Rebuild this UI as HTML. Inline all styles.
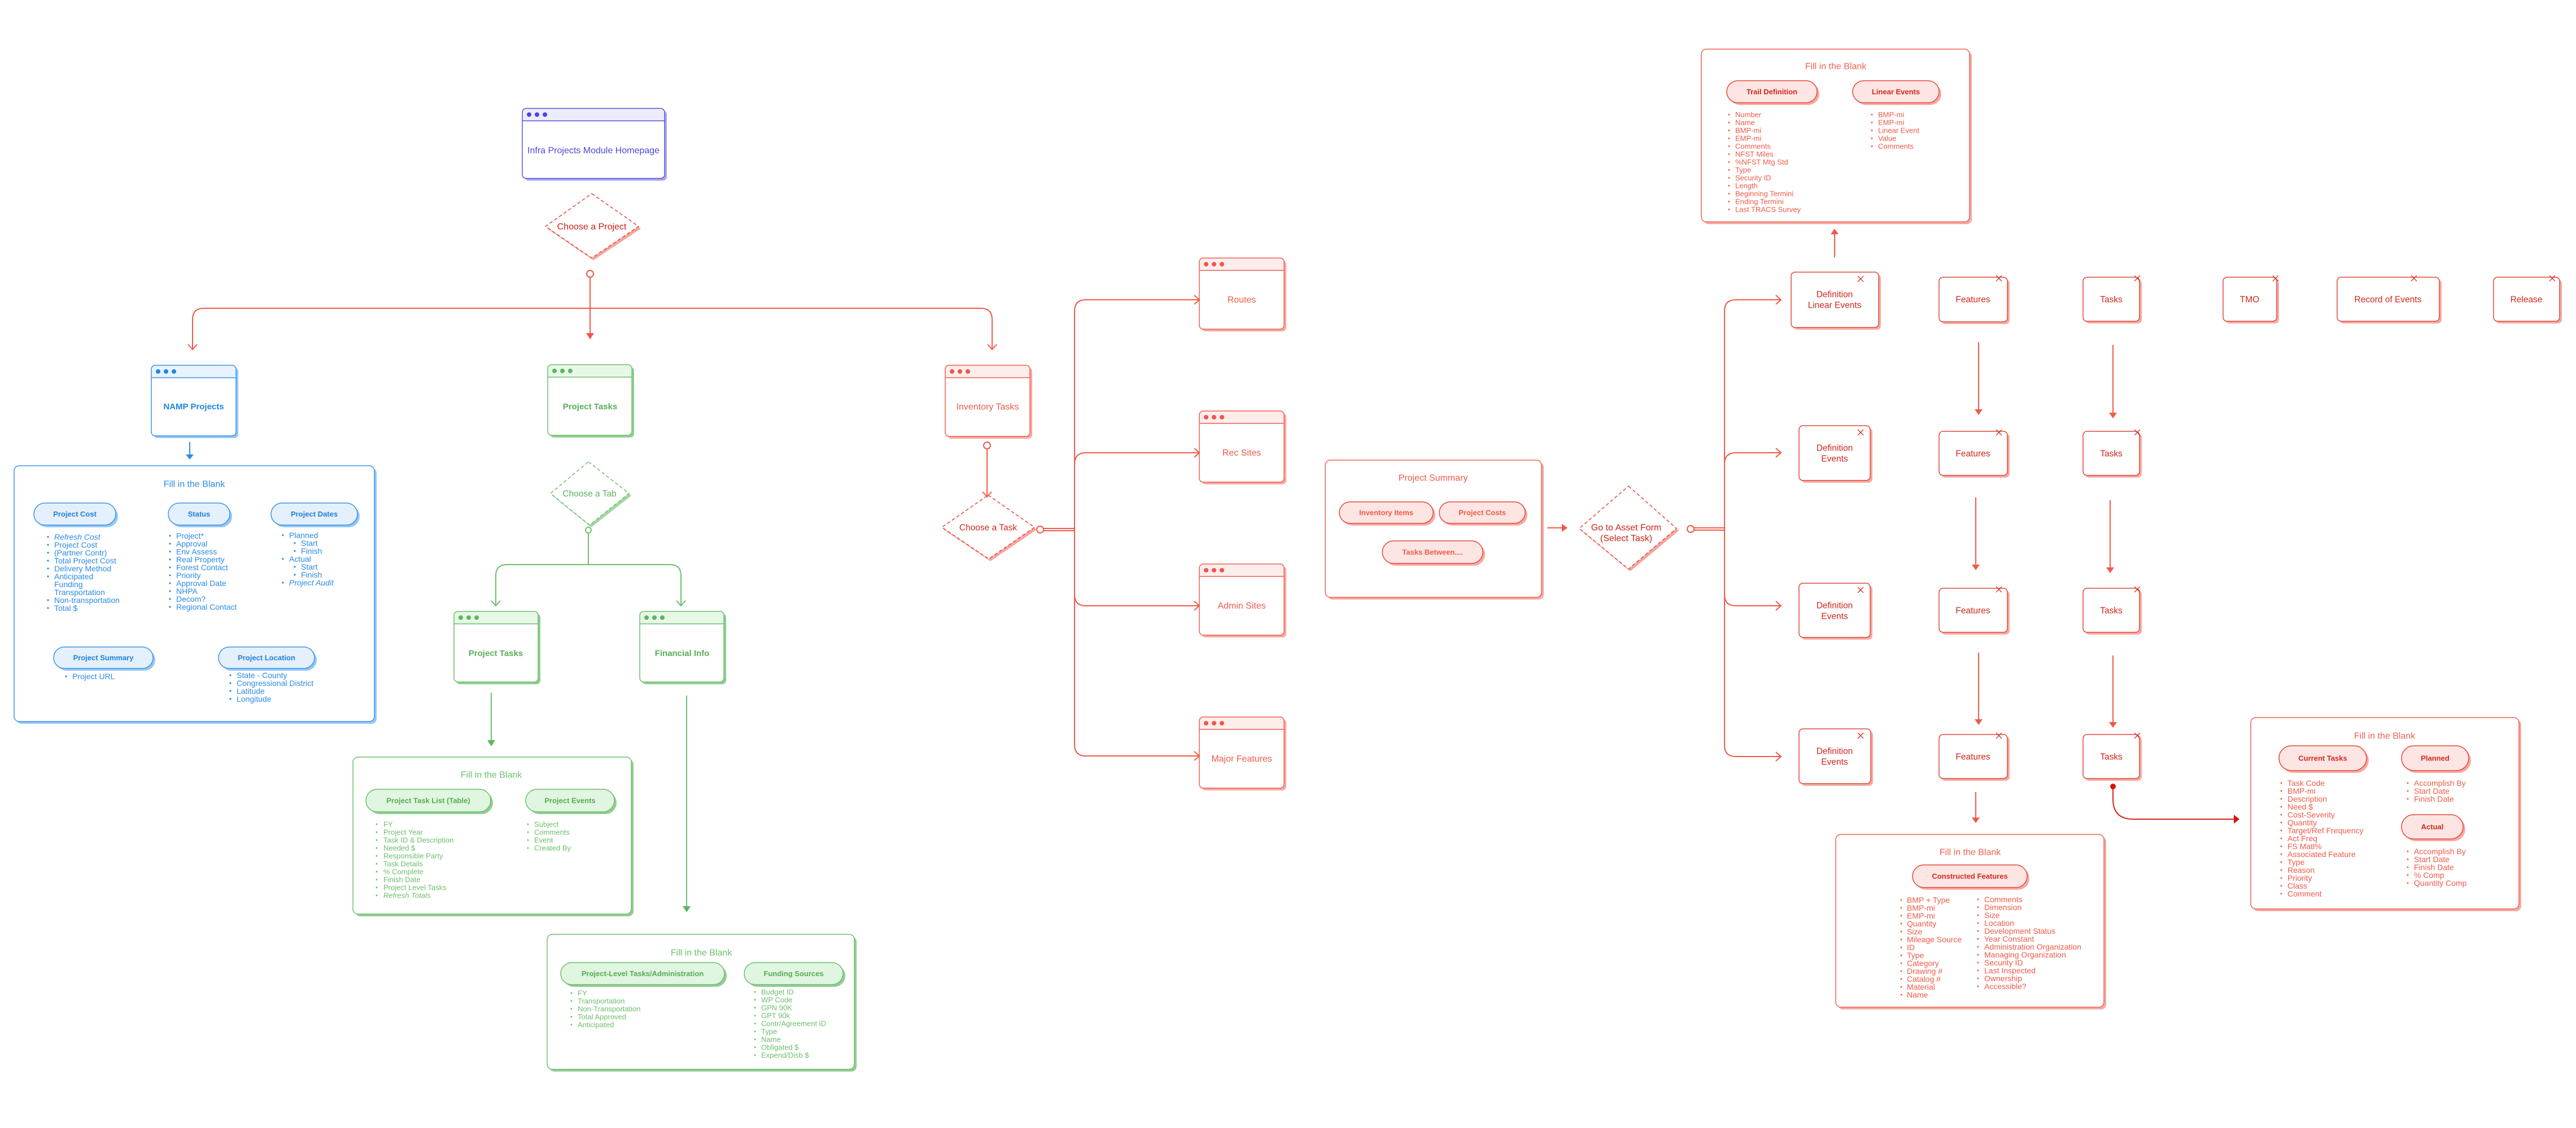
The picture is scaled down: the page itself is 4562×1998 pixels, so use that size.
<!DOCTYPE html>
<html>
<head>
<meta charset="utf-8">
<style>
html,body{margin:0;padding:0;background:#fff;}
body{width:4562px;height:1993px;overflow:hidden;}
svg text{font-family:"Liberation Sans",Arial,sans-serif;}
.c{text-anchor:middle;}
</style>
</head>
<body>
<svg xmlns="http://www.w3.org/2000/svg" width="4562" height="1993" viewBox="0 0 4562 1993">
<rect x="0" y="0" width="4562" height="1993" fill="#fff"/>

<!-- ============ WINDOWS ============ -->
<!-- Homepage (purple) -->
<rect x="929" y="196" width="252" height="124" rx="7" fill="#aaa7ef"/>
<rect x="925" y="192" width="252" height="124" rx="7" fill="#fff"/>
<path d="M925,214 V198 Q925,192 931,192 H1171 Q1177,192 1177,198 V214 Z" fill="#ececfc"/>
<rect x="925" y="192" width="252" height="124" rx="7" fill="none" stroke="#5a55d9" stroke-width="1.5"/>
<line x1="925" y1="214" x2="1177" y2="214" stroke="#5a55d9" stroke-width="1.5"/>
<g fill="#4b47e0"><circle cx="937" cy="203" r="4"/><circle cx="951" cy="203" r="4"/><circle cx="965" cy="203" r="4"/></g>
<text class="c" x="1051" y="271.5" font-size="16" fill="#4b47d8">Infra Projects Module Homepage</text>

<!-- NAMP Projects (blue) -->
<rect x="272" y="651" width="150" height="125" rx="7" fill="#94c7f4"/>
<rect x="268" y="647" width="150" height="125" rx="7" fill="#fff"/>
<path d="M268,669 V653 Q268,647 274,647 H412 Q418,647 418,653 V669 Z" fill="#e9f3fe"/>
<rect x="268" y="647" width="150" height="125" rx="7" fill="none" stroke="#3d94e8" stroke-width="1.5"/>
<line x1="268" y1="669" x2="418" y2="669" stroke="#3d94e8" stroke-width="1.5"/>
<g fill="#1e88e5"><circle cx="280" cy="658" r="4"/><circle cx="294" cy="658" r="4"/><circle cx="308" cy="658" r="4"/></g>
<text class="c" x="343" y="725" font-size="15" font-weight="bold" fill="#1e86e0">NAMP Projects</text>

<!-- Project Tasks top (green) -->
<rect x="974" y="650" width="149" height="125" rx="7" fill="#93cc93"/>
<rect x="970" y="646" width="149" height="125" rx="7" fill="#fff"/>
<path d="M970,668 V652 Q970,646 976,646 H1113 Q1119,646 1119,652 V668 Z" fill="#e7f8e7"/>
<rect x="970" y="646" width="149" height="125" rx="7" fill="none" stroke="#6cbf6c" stroke-width="1.5"/>
<line x1="970" y1="668" x2="1119" y2="668" stroke="#6cbf6c" stroke-width="1.5"/>
<g fill="#5cb85c"><circle cx="982" cy="657" r="4"/><circle cx="996" cy="657" r="4"/><circle cx="1010" cy="657" r="4"/></g>
<text class="c" x="1045" y="725" font-size="15" font-weight="bold" fill="#5aad5a">Project Tasks</text>

<!-- Inventory Tasks (red) -->
<rect x="1678" y="651" width="150" height="126" rx="7" fill="#f6aaa2"/>
<rect x="1674" y="647" width="150" height="126" rx="7" fill="#fff"/>
<path d="M1674,669 V653 Q1674,647 1680,647 H1818 Q1824,647 1824,653 V669 Z" fill="#fdedeb"/>
<rect x="1674" y="647" width="150" height="126" rx="7" fill="none" stroke="#f0604f" stroke-width="1.5"/>
<line x1="1674" y1="669" x2="1824" y2="669" stroke="#f0604f" stroke-width="1.5"/>
<g fill="#f0564a"><circle cx="1686" cy="658" r="4"/><circle cx="1700" cy="658" r="4"/><circle cx="1714" cy="658" r="4"/></g>
<text class="c" x="1749" y="725.5" font-size="16" fill="#ef5a48">Inventory Tasks</text>

<!-- Project Tasks 2 (green) -->
<rect x="808" y="1087" width="149" height="125" rx="7" fill="#93cc93"/>
<rect x="804" y="1083" width="149" height="125" rx="7" fill="#fff"/>
<path d="M804,1105 V1089 Q804,1083 810,1083 H947 Q953,1083 953,1089 V1105 Z" fill="#e7f8e7"/>
<rect x="804" y="1083" width="149" height="125" rx="7" fill="none" stroke="#6cbf6c" stroke-width="1.5"/>
<line x1="804" y1="1105" x2="953" y2="1105" stroke="#6cbf6c" stroke-width="1.5"/>
<g fill="#5cb85c"><circle cx="816" cy="1094" r="4"/><circle cx="830" cy="1094" r="4"/><circle cx="844" cy="1094" r="4"/></g>
<text class="c" x="878" y="1162" font-size="15" font-weight="bold" fill="#5aad5a">Project Tasks</text>

<!-- Financial Info (green) -->
<rect x="1137" y="1087" width="149" height="125" rx="7" fill="#93cc93"/>
<rect x="1133" y="1083" width="149" height="125" rx="7" fill="#fff"/>
<path d="M1133,1105 V1089 Q1133,1083 1139,1083 H1276 Q1282,1083 1282,1089 V1105 Z" fill="#e7f8e7"/>
<rect x="1133" y="1083" width="149" height="125" rx="7" fill="none" stroke="#6cbf6c" stroke-width="1.5"/>
<line x1="1133" y1="1105" x2="1282" y2="1105" stroke="#6cbf6c" stroke-width="1.5"/>
<g fill="#5cb85c"><circle cx="1145" cy="1094" r="4"/><circle cx="1159" cy="1094" r="4"/><circle cx="1173" cy="1094" r="4"/></g>
<text class="c" x="1208" y="1162" font-size="15" font-weight="bold" fill="#5aad5a">Financial Info</text>

<!-- Routes -->
<rect x="2128" y="461" width="150" height="126" rx="7" fill="#f6aaa2"/>
<rect x="2124" y="457" width="150" height="126" rx="7" fill="#fff"/>
<path d="M2124,479 V463 Q2124,457 2130,457 H2268 Q2274,457 2274,463 V479 Z" fill="#fdedeb"/>
<rect x="2124" y="457" width="150" height="126" rx="7" fill="none" stroke="#f0604f" stroke-width="1.5"/>
<line x1="2124" y1="479" x2="2274" y2="479" stroke="#f0604f" stroke-width="1.5"/>
<g fill="#f0564a"><circle cx="2136" cy="468" r="4"/><circle cx="2150" cy="468" r="4"/><circle cx="2164" cy="468" r="4"/></g>
<text class="c" x="2199" y="536" font-size="16" fill="#ef5a48">Routes</text>

<!-- Rec Sites -->
<rect x="2128" y="732" width="150" height="126" rx="7" fill="#f6aaa2"/>
<rect x="2124" y="728" width="150" height="126" rx="7" fill="#fff"/>
<path d="M2124,750 V734 Q2124,728 2130,728 H2268 Q2274,728 2274,734 V750 Z" fill="#fdedeb"/>
<rect x="2124" y="728" width="150" height="126" rx="7" fill="none" stroke="#f0604f" stroke-width="1.5"/>
<line x1="2124" y1="750" x2="2274" y2="750" stroke="#f0604f" stroke-width="1.5"/>
<g fill="#f0564a"><circle cx="2136" cy="739" r="4"/><circle cx="2150" cy="739" r="4"/><circle cx="2164" cy="739" r="4"/></g>
<text class="c" x="2199" y="807" font-size="16" fill="#ef5a48">Rec Sites</text>

<!-- Admin Sites -->
<rect x="2128" y="1003" width="150" height="126" rx="7" fill="#f6aaa2"/>
<rect x="2124" y="999" width="150" height="126" rx="7" fill="#fff"/>
<path d="M2124,1021 V1005 Q2124,999 2130,999 H2268 Q2274,999 2274,1005 V1021 Z" fill="#fdedeb"/>
<rect x="2124" y="999" width="150" height="126" rx="7" fill="none" stroke="#f0604f" stroke-width="1.5"/>
<line x1="2124" y1="1021" x2="2274" y2="1021" stroke="#f0604f" stroke-width="1.5"/>
<g fill="#f0564a"><circle cx="2136" cy="1010" r="4"/><circle cx="2150" cy="1010" r="4"/><circle cx="2164" cy="1010" r="4"/></g>
<text class="c" x="2199" y="1078" font-size="16" fill="#ef5a48">Admin Sites</text>

<!-- Major Features -->
<rect x="2128" y="1274" width="150" height="126" rx="7" fill="#f6aaa2"/>
<rect x="2124" y="1270" width="150" height="126" rx="7" fill="#fff"/>
<path d="M2124,1292 V1276 Q2124,1270 2130,1270 H2268 Q2274,1270 2274,1276 V1292 Z" fill="#fdedeb"/>
<rect x="2124" y="1270" width="150" height="126" rx="7" fill="none" stroke="#f0604f" stroke-width="1.5"/>
<line x1="2124" y1="1292" x2="2274" y2="1292" stroke="#f0604f" stroke-width="1.5"/>
<g fill="#f0564a"><circle cx="2136" cy="1281" r="4"/><circle cx="2150" cy="1281" r="4"/><circle cx="2164" cy="1281" r="4"/></g>
<text class="c" x="2199" y="1349" font-size="16" fill="#ef5a48">Major Features</text>

<!-- ============ CONTAINERS ============ -->
<!-- NAMP Fill in the blank -->
<rect x="29" y="829" width="638" height="453" rx="9" fill="#94c7f4"/>
<rect x="25" y="825" width="638" height="453" rx="9" fill="#fff" stroke="#3d94e8" stroke-width="1.5"/>
<text class="c" x="344" y="862.5" font-size="16" fill="#2a8be6">Fill in the Blank</text>

<!-- PT Fill -->
<rect x="629" y="1345" width="493" height="278" rx="9" fill="#93cc93"/>
<rect x="625" y="1341" width="493" height="278" rx="9" fill="#fff" stroke="#6cbf6c" stroke-width="1.5"/>
<text class="c" x="870" y="1377.5" font-size="16" fill="#6cbf6c">Fill in the Blank</text>

<!-- Financial Fill -->
<rect x="973" y="1659" width="544" height="239" rx="9" fill="#93cc93"/>
<rect x="969" y="1655" width="544" height="239" rx="9" fill="#fff" stroke="#6cbf6c" stroke-width="1.5"/>
<text class="c" x="1242" y="1692.5" font-size="16" fill="#6cbf6c">Fill in the Blank</text>

<!-- Project Summary -->
<rect x="2351" y="819" width="383" height="243" rx="9" fill="#f6aaa2"/>
<rect x="2347" y="815" width="383" height="243" rx="9" fill="#fff" stroke="#f0604f" stroke-width="1.5"/>
<text class="c" x="2538" y="851.5" font-size="16" fill="#ef5a48">Project Summary</text>

<!-- Trail box -->
<rect x="3017" y="91" width="475" height="306" rx="9" fill="#f6aaa2"/>
<rect x="3013" y="87" width="475" height="306" rx="9" fill="#fff" stroke="#f0604f" stroke-width="1.5"/>
<text class="c" x="3251" y="122.5" font-size="16" fill="#ef6352">Fill in the Blank</text>

<!-- Constructed -->
<rect x="3255" y="1482" width="475" height="306" rx="9" fill="#f6aaa2"/>
<rect x="3251" y="1478" width="475" height="306" rx="9" fill="#fff" stroke="#f0604f" stroke-width="1.5"/>
<text class="c" x="3489" y="1514.5" font-size="16" fill="#ef6352">Fill in the Blank</text>

<!-- Current tasks -->
<rect x="3990" y="1275" width="475" height="339" rx="9" fill="#f6aaa2"/>
<rect x="3986" y="1271" width="475" height="339" rx="9" fill="#fff" stroke="#f0604f" stroke-width="1.5"/>
<text class="c" x="4223" y="1308.5" font-size="16" fill="#ef6352">Fill in the Blank</text>

<!-- ============ PILLS ============ -->
<!-- blue -->
<g stroke="#3d94e8" stroke-width="1.5">
<rect x="64" y="895" width="145" height="39" rx="19.5" fill="#94c7f4" stroke="none"/>
<rect x="60" y="891" width="145" height="39" rx="19.5" fill="#e4f0fd"/>
<rect x="302" y="895" width="109" height="39" rx="19.5" fill="#94c7f4" stroke="none"/>
<rect x="298" y="891" width="109" height="39" rx="19.5" fill="#e4f0fd"/>
<rect x="484" y="895" width="153" height="39" rx="19.5" fill="#94c7f4" stroke="none"/>
<rect x="480" y="891" width="153" height="39" rx="19.5" fill="#e4f0fd"/>
<rect x="99" y="1150" width="176" height="38" rx="19" fill="#94c7f4" stroke="none"/>
<rect x="95" y="1146" width="176" height="38" rx="19" fill="#e4f0fd"/>
<rect x="391" y="1150" width="170" height="38" rx="19" fill="#94c7f4" stroke="none"/>
<rect x="387" y="1146" width="170" height="38" rx="19" fill="#e4f0fd"/>
</g>
<g font-size="13" font-weight="bold" fill="#1f7fd9" class="c">
<text class="c" x="132.5" y="915">Project Cost</text>
<text class="c" x="352.5" y="915">Status</text>
<text class="c" x="556.5" y="915">Project Dates</text>
<text class="c" x="183" y="1169.5">Project Summary</text>
<text class="c" x="472" y="1169.5">Project Location</text>
</g>

<!-- green -->
<g stroke="#6cbf6c" stroke-width="1.5">
<rect x="652" y="1402" width="221" height="40" rx="20" fill="#93cc93" stroke="none"/>
<rect x="648" y="1398" width="221" height="40" rx="20" fill="#e0f6e0"/>
<rect x="935" y="1402" width="157" height="40" rx="20" fill="#93cc93" stroke="none"/>
<rect x="931" y="1398" width="157" height="40" rx="20" fill="#e0f6e0"/>
<rect x="997" y="1709" width="290" height="39" rx="19.5" fill="#93cc93" stroke="none"/>
<rect x="993" y="1705" width="290" height="39" rx="19.5" fill="#e0f6e0"/>
<rect x="1322" y="1709" width="175" height="39" rx="19.5" fill="#93cc93" stroke="none"/>
<rect x="1318" y="1705" width="175" height="39" rx="19.5" fill="#e0f6e0"/>
</g>
<g font-size="13" font-weight="bold" fill="#55ab55">
<text class="c" x="758.5" y="1422.5">Project Task List (Table)</text>
<text class="c" x="1009.5" y="1422.5">Project Events</text>
<text class="c" x="1138" y="1729">Project-Level Tasks/Administration</text>
<text class="c" x="1405.5" y="1729">Funding Sources</text>
</g>

<!-- red -->
<g stroke="#e8493b" stroke-width="1.5">
<rect x="2376" y="893" width="166" height="38" rx="19" fill="#f6aaa2" stroke="none"/>
<rect x="2372" y="889" width="166" height="38" rx="19" fill="#fde5e3"/>
<rect x="2553" y="893" width="152" height="38" rx="19" fill="#f6aaa2" stroke="none"/>
<rect x="2549" y="889" width="152" height="38" rx="19" fill="#fde5e3"/>
<rect x="2452" y="962" width="178" height="40" rx="20" fill="#f6aaa2" stroke="none"/>
<rect x="2448" y="958" width="178" height="40" rx="20" fill="#fde5e3"/>
<rect x="3062" y="147" width="160" height="39" rx="19.5" fill="#f6aaa2" stroke="none"/>
<rect x="3058" y="143" width="160" height="39" rx="19.5" fill="#fde5e3"/>
<rect x="3285" y="147" width="153" height="39" rx="19.5" fill="#f6aaa2" stroke="none"/>
<rect x="3281" y="143" width="153" height="39" rx="19.5" fill="#fde5e3"/>
<rect x="3391" y="1536" width="203" height="40" rx="20" fill="#f6aaa2" stroke="none"/>
<rect x="3387" y="1532" width="203" height="40" rx="20" fill="#fde5e3"/>
<rect x="4040" y="1325" width="155" height="44" rx="22" fill="#f6aaa2" stroke="none"/>
<rect x="4036" y="1321" width="155" height="44" rx="22" fill="#fde5e3"/>
<rect x="4257" y="1325" width="119" height="44" rx="22" fill="#f6aaa2" stroke="none"/>
<rect x="4253" y="1321" width="119" height="44" rx="22" fill="#fde5e3"/>
<rect x="4257" y="1447" width="109" height="43" rx="21.5" fill="#f6aaa2" stroke="none"/>
<rect x="4253" y="1443" width="109" height="43" rx="21.5" fill="#fde5e3"/>
</g>
<g font-size="13" font-weight="bold" fill="#cf2a1f">
<text class="c" x="2455" y="912.5" fill="#ef5a48">Inventory Items</text>
<text class="c" x="2625" y="912.5" fill="#ef5a48">Project Costs</text>
<text class="c" x="2537" y="982.5" fill="#ef5a48">Tasks Between....</text>
<text class="c" x="3138" y="167">Trail Definition</text>
<text class="c" x="3357.5" y="167">Linear Events</text>
<text class="c" x="3488.5" y="1556.5">Constructed Features</text>
<text class="c" x="4113.5" y="1347.5">Current Tasks</text>
<text class="c" x="4312.5" y="1347.5">Planned</text>
<text class="c" x="4307.5" y="1469">Actual</text>
</g>

<!-- ============ LISTS ============ -->
<!-- NAMP lists -->
<g fill="#2a8be6">
<circle cx="85" cy="951" r="1.6"/><circle cx="85" cy="965" r="1.6"/><circle cx="85" cy="979" r="1.6"/><circle cx="85" cy="993" r="1.6"/><circle cx="85" cy="1007" r="1.6"/><circle cx="85" cy="1021" r="1.6"/><circle cx="85" cy="1063" r="1.6"/><circle cx="85" cy="1077" r="1.6"/>
<circle cx="301" cy="949" r="1.6"/><circle cx="301" cy="963" r="1.6"/><circle cx="301" cy="977" r="1.6"/><circle cx="301" cy="991" r="1.6"/><circle cx="301" cy="1005" r="1.6"/><circle cx="301" cy="1019" r="1.6"/><circle cx="301" cy="1033" r="1.6"/><circle cx="301" cy="1047" r="1.6"/><circle cx="301" cy="1061" r="1.6"/><circle cx="301" cy="1075" r="1.6"/>
<circle cx="501" cy="948" r="1.6"/><circle cx="522" cy="962" r="1.6"/><circle cx="522" cy="976" r="1.6"/><circle cx="501" cy="990" r="1.6"/><circle cx="522" cy="1004" r="1.6"/><circle cx="522" cy="1018" r="1.6"/><circle cx="501" cy="1032" r="1.6"/>
<circle cx="117" cy="1198" r="1.6"/>
<circle cx="408" cy="1196" r="1.6"/><circle cx="408" cy="1210" r="1.6"/><circle cx="408" cy="1224" r="1.6"/><circle cx="408" cy="1238" r="1.6"/>
</g>
<text font-size="14" fill="#2a8be6">
<tspan x="96" y="956" font-style="italic">Refresh Cost</tspan>
<tspan x="96" y="970">Project Cost</tspan>
<tspan x="96" y="984">(Partner Contr)</tspan>
<tspan x="96" y="998">Total Project Cost</tspan>
<tspan x="96" y="1012">Delivery Method</tspan>
<tspan x="96" y="1026">Anticipated</tspan>
<tspan x="96" y="1040">Funding</tspan>
<tspan x="96" y="1054">Transportation</tspan>
<tspan x="96" y="1068">Non-transportation</tspan>
<tspan x="96" y="1082">Total $</tspan>
</text>
<text font-size="14" fill="#2a8be6">
<tspan x="312" y="954">Project*</tspan>
<tspan x="312" y="968">Approval</tspan>
<tspan x="312" y="982">Env Assess</tspan>
<tspan x="312" y="996">Real Property</tspan>
<tspan x="312" y="1010">Forest Contact</tspan>
<tspan x="312" y="1024">Priority</tspan>
<tspan x="312" y="1038">Approval Date</tspan>
<tspan x="312" y="1052">NHPA</tspan>
<tspan x="312" y="1066">Decom?</tspan>
<tspan x="312" y="1080">Regional Contact</tspan>
</text>
<text font-size="14" fill="#2a8be6">
<tspan x="512" y="953">Planned</tspan>
<tspan x="533" y="967">Start</tspan>
<tspan x="533" y="981">Finish</tspan>
<tspan x="512" y="995">Actual</tspan>
<tspan x="533" y="1009">Start</tspan>
<tspan x="533" y="1023">Finish</tspan>
<tspan x="512" y="1037" font-style="italic">Project Audit</tspan>
</text>
<text font-size="14" fill="#2a8be6"><tspan x="128" y="1203">Project URL</tspan></text>
<text font-size="14" fill="#2a8be6">
<tspan x="419" y="1201">State - County</tspan>
<tspan x="419" y="1215">Congressional District</tspan>
<tspan x="419" y="1229">Latitude</tspan>
<tspan x="419" y="1243">Longitude</tspan>
</text>

<!-- Green PT lists -->
<g fill="#6cbf6c">
<circle cx="667" cy="1460" r="1.5"/><circle cx="667" cy="1474" r="1.5"/><circle cx="667" cy="1488" r="1.5"/><circle cx="667" cy="1502" r="1.5"/><circle cx="667" cy="1516" r="1.5"/><circle cx="667" cy="1530" r="1.5"/><circle cx="667" cy="1544" r="1.5"/><circle cx="667" cy="1558" r="1.5"/><circle cx="667" cy="1572" r="1.5"/><circle cx="667" cy="1586" r="1.5"/>
<circle cx="935" cy="1460" r="1.5"/><circle cx="935" cy="1474" r="1.5"/><circle cx="935" cy="1488" r="1.5"/><circle cx="935" cy="1502" r="1.5"/>
<circle cx="1012" cy="1759" r="1.5"/><circle cx="1012" cy="1773" r="1.5"/><circle cx="1012" cy="1787" r="1.5"/><circle cx="1012" cy="1801" r="1.5"/><circle cx="1012" cy="1815" r="1.5"/>
<circle cx="1337" cy="1757" r="1.5"/><circle cx="1337" cy="1771" r="1.5"/><circle cx="1337" cy="1785" r="1.5"/><circle cx="1337" cy="1799" r="1.5"/><circle cx="1337" cy="1813" r="1.5"/><circle cx="1337" cy="1827" r="1.5"/><circle cx="1337" cy="1841" r="1.5"/><circle cx="1337" cy="1855" r="1.5"/><circle cx="1337" cy="1869" r="1.5"/>
</g>
<text font-size="13" fill="#6cbf6c">
<tspan x="679" y="1464.5">FY</tspan>
<tspan x="679" y="1478.5">Project Year</tspan>
<tspan x="679" y="1492.5">Task ID &amp; Description</tspan>
<tspan x="679" y="1506.5">Needed $</tspan>
<tspan x="679" y="1520.5">Responsible Party</tspan>
<tspan x="679" y="1534.5">Task Details</tspan>
<tspan x="679" y="1548.5">% Complete</tspan>
<tspan x="679" y="1562.5">Finish Date</tspan>
<tspan x="679" y="1576.5">Project Level Tasks</tspan>
<tspan x="679" y="1590.5" font-style="italic">Refresh Totals</tspan>
</text>
<text font-size="13" fill="#6cbf6c">
<tspan x="946" y="1464.5">Subject</tspan>
<tspan x="946" y="1478.5">Comments</tspan>
<tspan x="946" y="1492.5">Event</tspan>
<tspan x="946" y="1506.5">Created By</tspan>
</text>
<text font-size="13" fill="#6cbf6c">
<tspan x="1023" y="1763.5">FY</tspan>
<tspan x="1023" y="1777.5">Transportation</tspan>
<tspan x="1023" y="1791.5">Non-Transportation</tspan>
<tspan x="1023" y="1805.5">Total Approved</tspan>
<tspan x="1023" y="1819.5">Anticipated</tspan>
</text>
<text font-size="13" fill="#6cbf6c">
<tspan x="1348" y="1761.5">Budget ID</tspan>
<tspan x="1348" y="1775.5">WP Code</tspan>
<tspan x="1348" y="1789.5">GPN 90K</tspan>
<tspan x="1348" y="1803.5">GPT 90k</tspan>
<tspan x="1348" y="1817.5">Contr/Agreement iD</tspan>
<tspan x="1348" y="1831.5">Type</tspan>
<tspan x="1348" y="1845.5">Name</tspan>
<tspan x="1348" y="1859.5">Obligated $</tspan>
<tspan x="1348" y="1873.5">Expend/Disb $</tspan>
</text>

<!-- Red lists -->
<g fill="#ef5a48">
<circle cx="3062" cy="203" r="1.5"/><circle cx="3062" cy="217" r="1.5"/><circle cx="3062" cy="231" r="1.5"/><circle cx="3062" cy="245" r="1.5"/><circle cx="3062" cy="259" r="1.5"/><circle cx="3062" cy="273" r="1.5"/><circle cx="3062" cy="287" r="1.5"/><circle cx="3062" cy="301" r="1.5"/><circle cx="3062" cy="315" r="1.5"/><circle cx="3062" cy="329" r="1.5"/><circle cx="3062" cy="343" r="1.5"/><circle cx="3062" cy="357" r="1.5"/><circle cx="3062" cy="371" r="1.5"/>
<circle cx="3315" cy="203" r="1.5"/><circle cx="3315" cy="217" r="1.5"/><circle cx="3315" cy="231" r="1.5"/><circle cx="3315" cy="245" r="1.5"/><circle cx="3315" cy="259" r="1.5"/>
<circle cx="3367" cy="1594" r="1.5"/><circle cx="3367" cy="1608" r="1.5"/><circle cx="3367" cy="1622" r="1.5"/><circle cx="3367" cy="1636" r="1.5"/><circle cx="3367" cy="1650" r="1.5"/><circle cx="3367" cy="1664" r="1.5"/><circle cx="3367" cy="1678" r="1.5"/><circle cx="3367" cy="1692" r="1.5"/><circle cx="3367" cy="1706" r="1.5"/><circle cx="3367" cy="1720" r="1.5"/><circle cx="3367" cy="1734" r="1.5"/><circle cx="3367" cy="1748" r="1.5"/><circle cx="3367" cy="1762" r="1.5"/>
<circle cx="3503" cy="1593" r="1.5"/><circle cx="3503" cy="1607" r="1.5"/><circle cx="3503" cy="1621" r="1.5"/><circle cx="3503" cy="1635" r="1.5"/><circle cx="3503" cy="1649" r="1.5"/><circle cx="3503" cy="1663" r="1.5"/><circle cx="3503" cy="1677" r="1.5"/><circle cx="3503" cy="1691" r="1.5"/><circle cx="3503" cy="1705" r="1.5"/><circle cx="3503" cy="1719" r="1.5"/><circle cx="3503" cy="1733" r="1.5"/><circle cx="3503" cy="1747" r="1.5"/>
<circle cx="4040" cy="1387" r="1.5"/><circle cx="4040" cy="1401" r="1.5"/><circle cx="4040" cy="1415" r="1.5"/><circle cx="4040" cy="1429" r="1.5"/><circle cx="4040" cy="1443" r="1.5"/><circle cx="4040" cy="1457" r="1.5"/><circle cx="4040" cy="1471" r="1.5"/><circle cx="4040" cy="1485" r="1.5"/><circle cx="4040" cy="1499" r="1.5"/><circle cx="4040" cy="1513" r="1.5"/><circle cx="4040" cy="1527" r="1.5"/><circle cx="4040" cy="1541" r="1.5"/><circle cx="4040" cy="1555" r="1.5"/><circle cx="4040" cy="1569" r="1.5"/><circle cx="4040" cy="1583" r="1.5"/>
<circle cx="4264" cy="1387" r="1.5"/><circle cx="4264" cy="1401" r="1.5"/><circle cx="4264" cy="1415" r="1.5"/>
<circle cx="4264" cy="1508" r="1.5"/><circle cx="4264" cy="1522" r="1.5"/><circle cx="4264" cy="1536" r="1.5"/><circle cx="4264" cy="1550" r="1.5"/><circle cx="4264" cy="1564" r="1.5"/>
</g>
<text font-size="13" fill="#ef5a48">
<tspan x="3073" y="207.5">Number</tspan>
<tspan x="3073" y="221.5">Name</tspan>
<tspan x="3073" y="235.5">BMP-mi</tspan>
<tspan x="3073" y="249.5">EMP-mi</tspan>
<tspan x="3073" y="263.5">Comments</tspan>
<tspan x="3073" y="277.5">NFST Miles</tspan>
<tspan x="3073" y="291.5">%NFST Mtg Std</tspan>
<tspan x="3073" y="305.5">Type</tspan>
<tspan x="3073" y="319.5">Security ID</tspan>
<tspan x="3073" y="333.5">Length</tspan>
<tspan x="3073" y="347.5">Beginning Termini</tspan>
<tspan x="3073" y="361.5">Ending Termini</tspan>
<tspan x="3073" y="375.5">Last TRACS Survey</tspan>
</text>
<text font-size="13" fill="#ef5a48">
<tspan x="3326" y="207.5">BMP-mi</tspan>
<tspan x="3326" y="221.5">EMP-mi</tspan>
<tspan x="3326" y="235.5">Linear Event</tspan>
<tspan x="3326" y="249.5">Value</tspan>
<tspan x="3326" y="263.5">Comments</tspan>
</text>
<text font-size="14" fill="#ef5a48">
<tspan x="3377" y="1599">BMP + Type</tspan>
<tspan x="3377" y="1613">BMP-mi</tspan>
<tspan x="3377" y="1627">EMP-mi</tspan>
<tspan x="3377" y="1641">Quantity</tspan>
<tspan x="3377" y="1655">Size</tspan>
<tspan x="3377" y="1669">Mileage Source</tspan>
<tspan x="3377" y="1683">ID</tspan>
<tspan x="3377" y="1697">Type</tspan>
<tspan x="3377" y="1711">Category</tspan>
<tspan x="3377" y="1725">Drawing #</tspan>
<tspan x="3377" y="1739">Catalog #</tspan>
<tspan x="3377" y="1753">Material</tspan>
<tspan x="3377" y="1767">Name</tspan>
</text>
<text font-size="14" fill="#ef5a48">
<tspan x="3514" y="1598">Comments</tspan>
<tspan x="3514" y="1612">Dimension</tspan>
<tspan x="3514" y="1626">Size</tspan>
<tspan x="3514" y="1640">Location</tspan>
<tspan x="3514" y="1654">Development Status</tspan>
<tspan x="3514" y="1668">Year Constant</tspan>
<tspan x="3514" y="1682">Administration Organization</tspan>
<tspan x="3514" y="1696">Managing Organization</tspan>
<tspan x="3514" y="1710">Security ID</tspan>
<tspan x="3514" y="1724">Last Inspected</tspan>
<tspan x="3514" y="1738">Ownership</tspan>
<tspan x="3514" y="1752">Accessible?</tspan>
</text>
<text font-size="14" fill="#ef5a48">
<tspan x="4051" y="1392">Task Code</tspan>
<tspan x="4051" y="1406">BMP-mi</tspan>
<tspan x="4051" y="1420">Description</tspan>
<tspan x="4051" y="1434">Need $</tspan>
<tspan x="4051" y="1448">Cost-Severity</tspan>
<tspan x="4051" y="1462">Quantity</tspan>
<tspan x="4051" y="1476">Target/Ref Frequency</tspan>
<tspan x="4051" y="1490">Act Freq</tspan>
<tspan x="4051" y="1504">FS Matl%</tspan>
<tspan x="4051" y="1518">Associated Feature</tspan>
<tspan x="4051" y="1532">Type</tspan>
<tspan x="4051" y="1546">Reason</tspan>
<tspan x="4051" y="1560">Priority</tspan>
<tspan x="4051" y="1574">Class</tspan>
<tspan x="4051" y="1588">Comment</tspan>
</text>
<text font-size="14" fill="#ef5a48">
<tspan x="4275" y="1392">Accomplish By</tspan>
<tspan x="4275" y="1406">Start Date</tspan>
<tspan x="4275" y="1420">Finish Date</tspan>
</text>
<text font-size="14" fill="#ef5a48">
<tspan x="4275" y="1513">Accomplish By</tspan>
<tspan x="4275" y="1527">Start Date</tspan>
<tspan x="4275" y="1541">Finish Date</tspan>
<tspan x="4275" y="1555">% Comp</tspan>
<tspan x="4275" y="1569">Quantity Comp</tspan>
</text>

<!-- ============ DIAMONDS ============ -->
<polygon points="1051,348 1135,405 1051,461 969,405" fill="#f5a59c"/>
<polygon points="1048,343 1131,401 1048,457 966,401" fill="#fff" stroke="#e8473a" stroke-width="1.5" stroke-dasharray="6,4"/>
<text class="c" x="1048" y="406.5" font-size="16" fill="#c92017">Choose a Project</text>

<polygon points="1045,822 1118,878 1047,934 978,878" fill="#a3d6a3"/>
<polygon points="1042,818 1114,874 1044,930 975,874" fill="#fff" stroke="#6abf6a" stroke-width="1.5" stroke-dasharray="6,4"/>
<text class="c" x="1044" y="879.5" font-size="15.5" fill="#5cb35c">Choose a Tab</text>

<polygon points="1753,881 1836,938 1754,994 1671,938" fill="#f5a59c"/>
<polygon points="1750,877 1832,934 1751,990 1668,934" fill="#fff" stroke="#e8473a" stroke-width="1.5" stroke-dasharray="6,4"/>
<text class="c" x="1750" y="939.5" font-size="15.5" fill="#d12a1f">Choose a Task</text>

<polygon points="2887,865 2973,940 2887,1012 2800,940" fill="#f5a59c"/>
<polygon points="2884,861 2969,936 2884,1008 2797,936" fill="#fff" stroke="#e8473a" stroke-width="1.5" stroke-dasharray="6,4"/>
<text class="c" x="2880" y="939.5" font-size="16" fill="#c92017">Go to Asset Form</text>
<text class="c" x="2880" y="958.5" font-size="16" fill="#c92017">(Select Task)</text>

<!-- ============ PLAIN BOXES (right) ============ -->
<g fill="#f6aaa2">
<rect x="3176" y="486" width="155" height="98" rx="7"/>
<rect x="3190" y="758" width="126" height="97" rx="7"/>
<rect x="3190" y="1037" width="126" height="96" rx="7"/>
<rect x="3190" y="1295" width="127" height="97" rx="7"/>
<rect x="3438" y="495" width="121" height="79" rx="7"/>
<rect x="3438" y="768" width="121" height="78" rx="7"/>
<rect x="3438" y="1046" width="121" height="78" rx="7"/>
<rect x="3438" y="1305" width="121" height="78" rx="7"/>
<rect x="3693" y="495" width="100" height="78" rx="7"/>
<rect x="3693" y="768" width="100" height="78" rx="7"/>
<rect x="3693" y="1046" width="100" height="78" rx="7"/>
<rect x="3693" y="1305" width="100" height="78" rx="7"/>
<rect x="3941" y="495" width="95" height="78" rx="7"/>
<rect x="4143" y="495" width="181" height="78" rx="7"/>
<rect x="4420" y="495" width="117" height="78" rx="7"/>
</g>
<g fill="#fff" stroke="#e0493c" stroke-width="1.5">
<rect x="3172" y="482" width="155" height="98" rx="7"/>
<rect x="3186" y="754" width="126" height="97" rx="7"/>
<rect x="3186" y="1033" width="126" height="96" rx="7"/>
<rect x="3186" y="1291" width="127" height="97" rx="7"/>
<rect x="3434" y="491" width="121" height="79" rx="7"/>
<rect x="3434" y="764" width="121" height="78" rx="7"/>
<rect x="3434" y="1042" width="121" height="78" rx="7"/>
<rect x="3434" y="1301" width="121" height="78" rx="7"/>
<rect x="3689" y="491" width="100" height="78" rx="7"/>
<rect x="3689" y="764" width="100" height="78" rx="7"/>
<rect x="3689" y="1042" width="100" height="78" rx="7"/>
<rect x="3689" y="1301" width="100" height="78" rx="7"/>
<rect x="3937" y="491" width="95" height="78" rx="7"/>
<rect x="4139" y="491" width="181" height="78" rx="7"/>
<rect x="4416" y="491" width="117" height="78" rx="7"/>
</g>
<!-- X marks -->
<g stroke="#d9362a" stroke-width="1.4">
<path d="M3290,489 L3300,499 M3300,489 L3290,499"/>
<path d="M3290,761 L3300,771 M3300,761 L3290,771"/>
<path d="M3290,1040 L3300,1050 M3300,1040 L3290,1050"/>
<path d="M3290,1298 L3300,1308 M3300,1298 L3290,1308"/>
<path d="M3535,488 L3545,498 M3545,488 L3535,498"/>
<path d="M3535,761 L3545,771 M3545,761 L3535,771"/>
<path d="M3535,1039 L3545,1049 M3545,1039 L3535,1049"/>
<path d="M3535,1298 L3545,1308 M3545,1298 L3535,1308"/>
<path d="M3780,488 L3790,498 M3790,488 L3780,498"/>
<path d="M3780,761 L3790,771 M3790,761 L3780,771"/>
<path d="M3780,1039 L3790,1049 M3790,1039 L3780,1049"/>
<path d="M3780,1298 L3790,1308 M3790,1298 L3780,1308"/>
<path d="M4025,488 L4035,498 M4035,488 L4025,498"/>
<path d="M4270,488 L4280,498 M4280,488 L4270,498"/>
<path d="M4515,488 L4525,498 M4525,488 L4515,498"/>
</g>
<g font-size="15.5" fill="#d0261b">
<text class="c" x="3249" y="526.5">Definition</text>
<text class="c" x="3249" y="545.5">Linear Events</text>
<text class="c" x="3249" y="798.5">Definition</text>
<text class="c" x="3249" y="817.5">Events</text>
<text class="c" x="3249" y="1077.5">Definition</text>
<text class="c" x="3249" y="1096.5">Events</text>
<text class="c" x="3249" y="1335.5">Definition</text>
<text class="c" x="3249" y="1354.5">Events</text>
<text class="c" x="3494" y="535.5">Features</text>
<text class="c" x="3494" y="808.5">Features</text>
<text class="c" x="3494" y="1086.5">Features</text>
<text class="c" x="3494" y="1345.5">Features</text>
<text class="c" x="3739" y="535.5">Tasks</text>
<text class="c" x="3739" y="808.5">Tasks</text>
<text class="c" x="3739" y="1086.5">Tasks</text>
<text class="c" x="3739" y="1345.5">Tasks</text>
<text class="c" x="3984" y="535.5">TMO</text>
<text class="c" x="4229" y="535.5">Record of Events</text>
<text class="c" x="4474" y="535.5">Release</text>
</g>

<!-- ============ CONNECTORS ============ -->
<!-- top red -->
<g fill="none" stroke="#ef5a48" stroke-width="2">
<circle cx="1045" cy="485" r="6" fill="#fff"/>
<line x1="1045" y1="491" x2="1045" y2="591"/>
<path d="M341,618 V566 Q341,546 361,546 H1737 Q1757,546 1757,566 V618"/>
<polyline points="333,610 341,619 349,610"/>
<polyline points="1749,610 1757,619 1765,610"/>
</g>
<polygon points="1038,590 1052,590 1045,601" fill="#ef5a48"/>

<!-- blue arrow -->
<line x1="336" y1="783" x2="336" y2="806" stroke="#2d8ee6" stroke-width="2"/>
<polygon points="329,805 343,805 336,814" fill="#2d8ee6"/>

<!-- green -->
<g fill="none" stroke="#6cbf6c" stroke-width="2">
<circle cx="1042" cy="939" r="5" fill="#fff"/>
<line x1="1042" y1="944" x2="1042" y2="1000"/>
<path d="M878,1072 V1020 Q878,1000 898,1000 H1186 Q1206,1000 1206,1020 V1072"/>
<polyline points="870,1064 878,1073 886,1064"/>
<polyline points="1198,1064 1206,1073 1214,1064"/>
<line x1="870" y1="1227" x2="870" y2="1313"/>
<line x1="1216" y1="1232" x2="1216" y2="1607"/>
</g>
<polygon points="863,1311 877,1311 870,1322" fill="#5cb85c"/>
<polygon points="1209,1605 1223,1605 1216,1616" fill="#5cb85c"/>

<!-- inventory connectors -->
<g fill="none" stroke="#ef5a48" stroke-width="2">
<circle cx="1748" cy="789" r="6" fill="#fff"/>
<line x1="1748" y1="795" x2="1748" y2="879"/>
<polyline points="1740,871 1748,880 1756,871"/>
<circle cx="1842" cy="938" r="6" fill="#fff"/>
<line x1="1848" y1="936" x2="1903" y2="936"/>
<line x1="1848" y1="940" x2="1903" y2="940"/>
<path d="M1903,938 V551 Q1903,531 1923,531 H2122"/>
<path d="M1903,938 V822 Q1903,802 1923,802 H2122"/>
<path d="M1903,938 V1053 Q1903,1073 1923,1073 H2122"/>
<path d="M1903,938 V1319 Q1903,1339 1923,1339 H2122"/>
<polyline points="2115,523 2124,531 2115,539"/>
<polyline points="2115,794 2124,802 2115,810"/>
<polyline points="2115,1065 2124,1073 2115,1081"/>
<polyline points="2115,1331 2124,1339 2115,1347"/>
</g>

<!-- project summary -> diamond -->
<line x1="2740" y1="935" x2="2767" y2="935" stroke="#ef5a48" stroke-width="2"/>
<polygon points="2766,928 2776,935 2766,942" fill="#ef5a48"/>

<!-- asset trunk -->
<g fill="none" stroke="#ef5a48" stroke-width="2">
<circle cx="2994" cy="937" r="6" fill="#fff"/>
<line x1="3000" y1="935" x2="3054" y2="935"/>
<line x1="3000" y1="939" x2="3054" y2="939"/>
<path d="M3054,937 V551 Q3054,531 3074,531 H3152"/>
<path d="M3054,937 V822 Q3054,802 3074,802 H3152"/>
<path d="M3054,937 V1053 Q3054,1073 3074,1073 H3152"/>
<path d="M3054,937 V1320 Q3054,1340 3074,1340 H3152"/>
<polyline points="3145,523 3154,531 3145,539"/>
<polyline points="3145,794 3154,802 3145,810"/>
<polyline points="3145,1065 3154,1073 3145,1081"/>
<polyline points="3145,1332 3154,1340 3145,1348"/>
</g>

<!-- trail up arrow -->
<line x1="3249" y1="456" x2="3249" y2="414" stroke="#ef5a48" stroke-width="2"/>
<polygon points="3242,415 3256,415 3249,405" fill="#ef5a48"/>

<!-- grid arrows -->
<g stroke="#ef5a48" stroke-width="2">
<line x1="3504" y1="606" x2="3504" y2="726"/>
<line x1="3742" y1="611" x2="3742" y2="732"/>
<line x1="3499" y1="881" x2="3499" y2="1001"/>
<line x1="3737" y1="886" x2="3737" y2="1006"/>
<line x1="3504" y1="1156" x2="3504" y2="1275"/>
<line x1="3742" y1="1161" x2="3742" y2="1280"/>
<line x1="3499" y1="1403" x2="3499" y2="1449"/>
</g>
<g fill="#ef5a48">
<polygon points="3497,725 3511,725 3504,735"/>
<polygon points="3735,731 3749,731 3742,741"/>
<polygon points="3492,1000 3506,1000 3499,1010"/>
<polygon points="3730,1005 3744,1005 3737,1015"/>
<polygon points="3497,1274 3511,1274 3504,1284"/>
<polygon points="3735,1279 3749,1279 3742,1289"/>
<polygon points="3492,1448 3506,1448 3499,1458"/>
</g>

<!-- tasks -> current tasks -->
<path d="M3742,1393 V1415 Q3742,1451 3778,1451 H3957" fill="none" stroke="#d8241a" stroke-width="2"/>
<circle cx="3742" cy="1393" r="5" fill="#d4160c"/>
<polygon points="3956,1443 3966,1451 3956,1459" fill="#d4160c"/>
</svg>
</body>
</html>
